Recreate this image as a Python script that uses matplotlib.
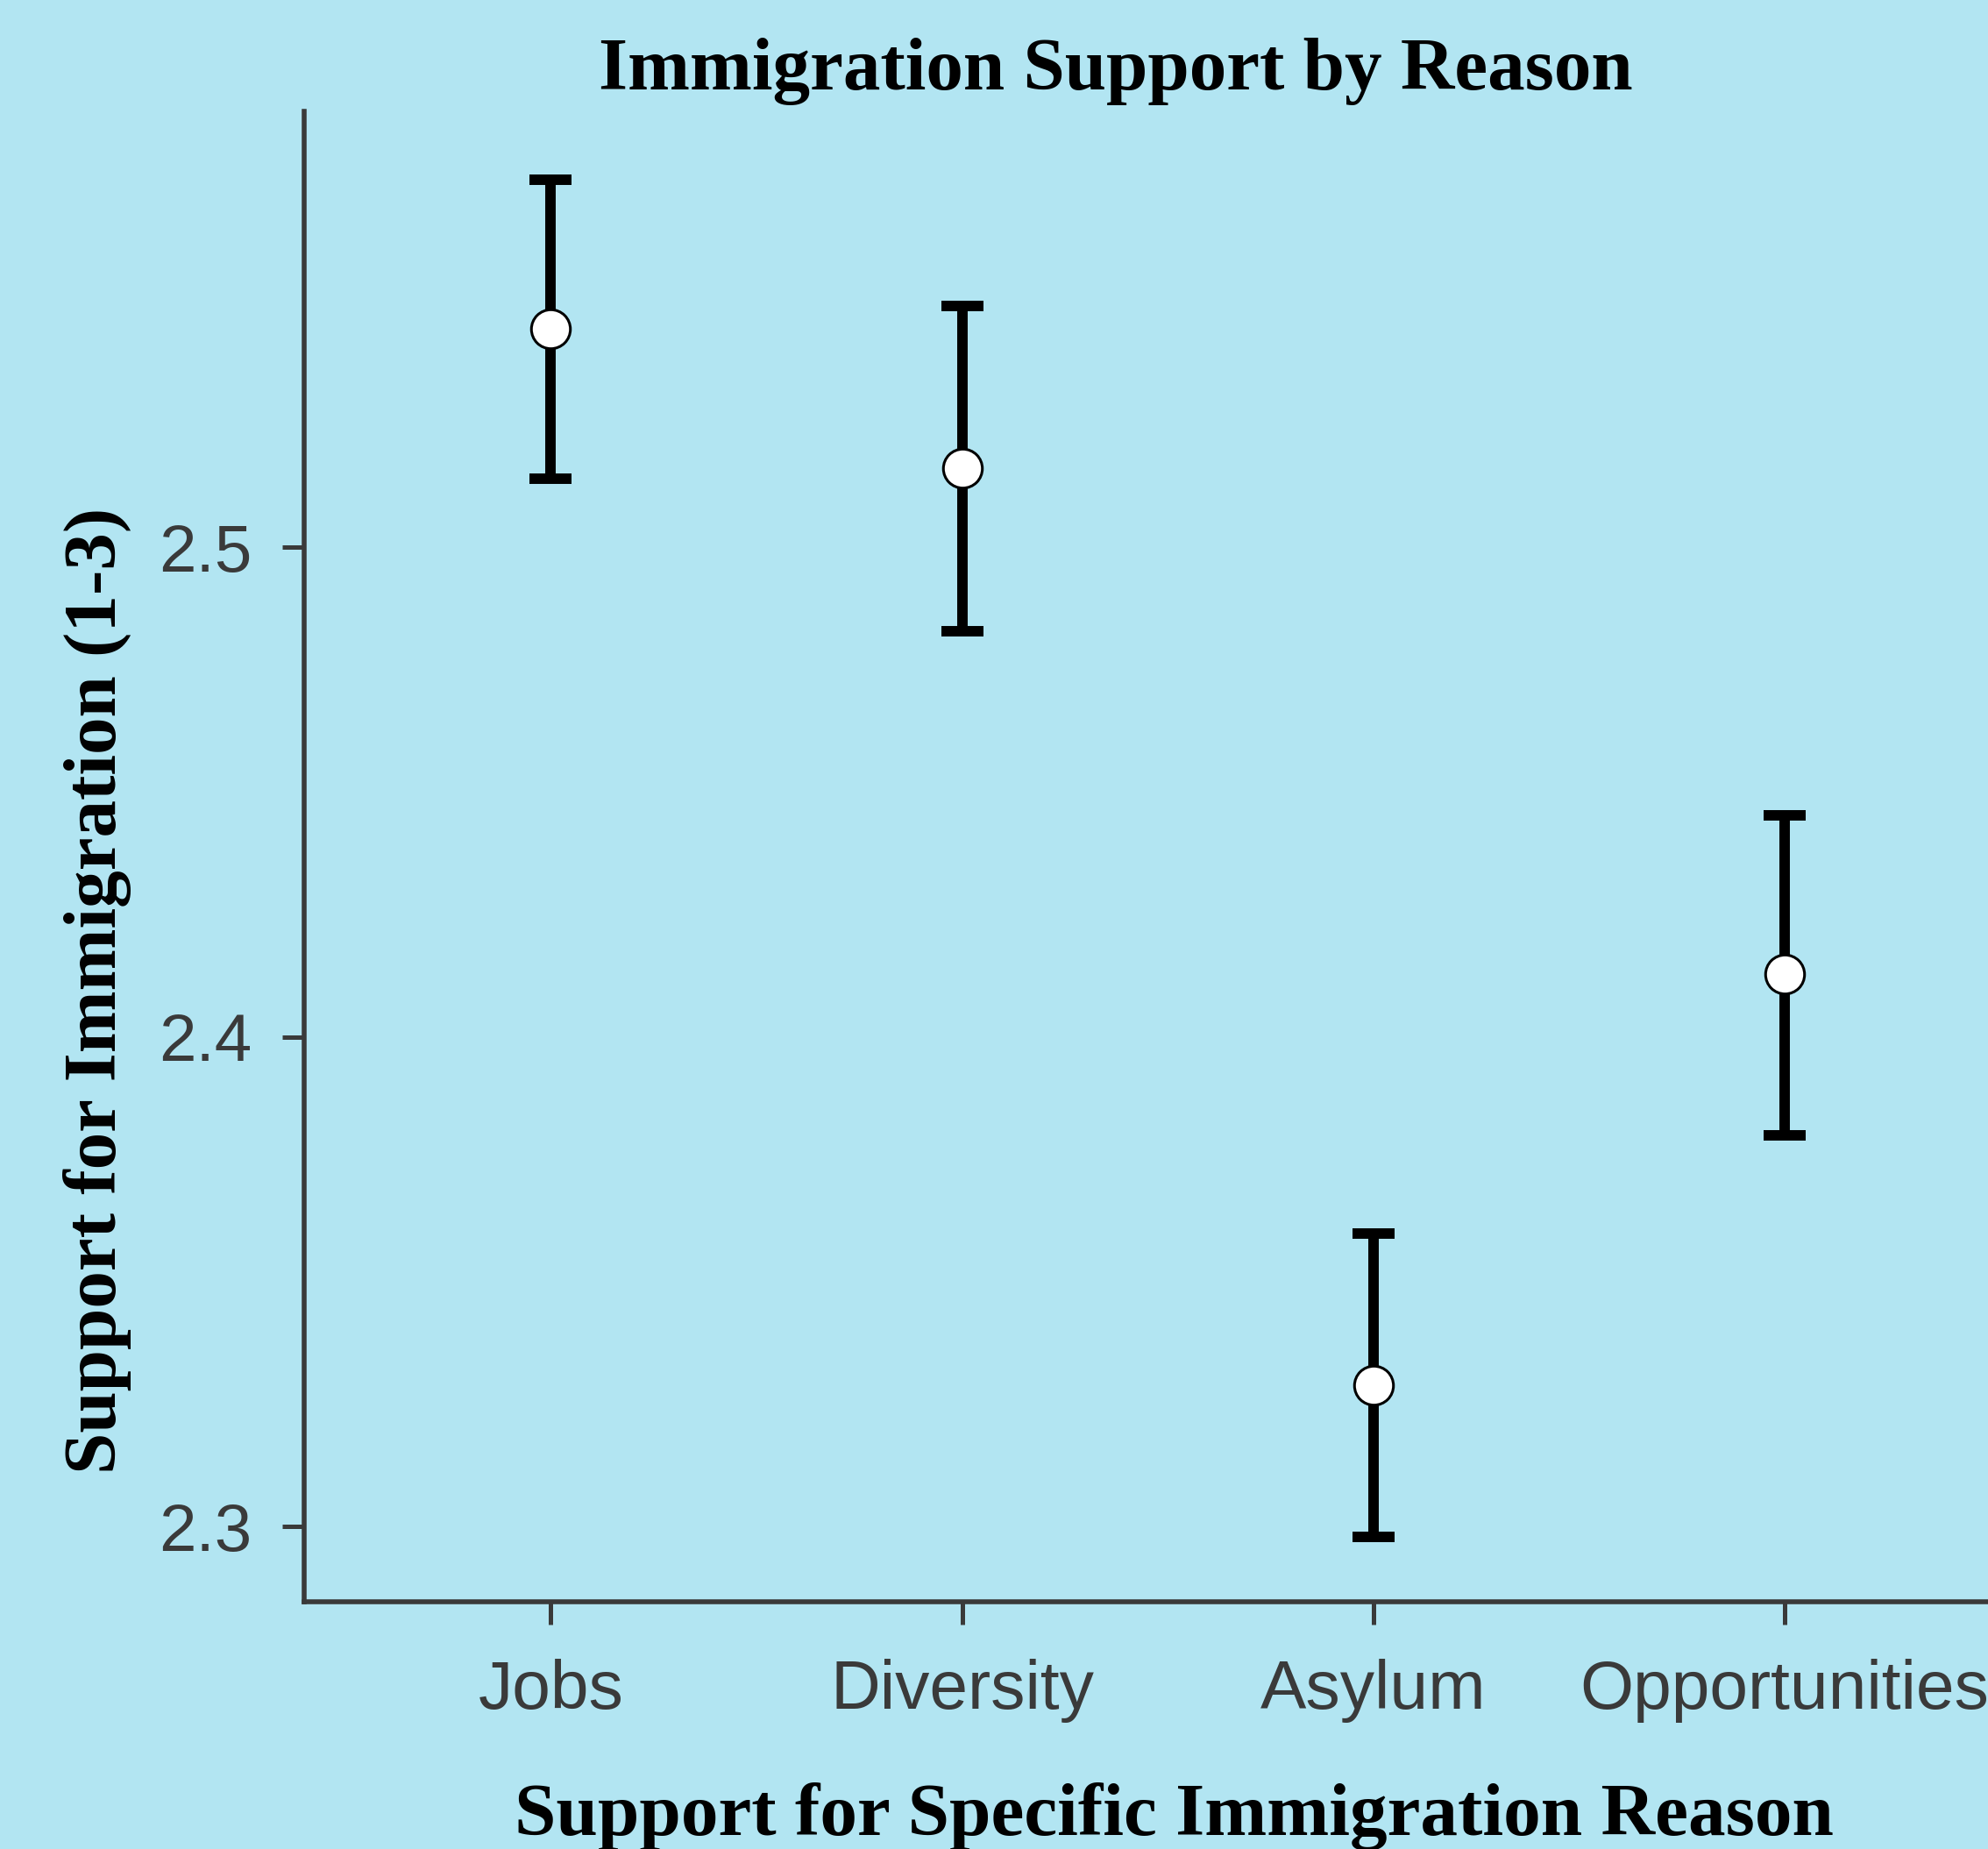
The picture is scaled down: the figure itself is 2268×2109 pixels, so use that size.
import matplotlib
matplotlib.use("Agg")
import matplotlib.pyplot as plt
import numpy as np

categories = ["Jobs", "Diversity", "Asylum", "Opportunities"]
means = [2.5447, 2.5161, 2.3289, 2.4128]
lower = [2.5140, 2.4828, 2.2979, 2.3798]
upper = [2.5751, 2.5493, 2.3598, 2.4452]
yticks = [2.3, 2.4, 2.5]
ytick_labels = ["2.3", "2.4", "2.5"]

title = "Immigration Support by Reason"
xlabel = "Support for Specific Immigration Reason"
ylabel = "Support for Immigration (1-3)"

W, H = 2268, 2109
bg = "#b2e5f2"
axis_col = "#3a3a3a"

fig = plt.figure(figsize=(W / 100, H / 100), dpi=100, facecolor=bg)
ax = fig.add_axes([346.8 / W, 1 - 1827 / H, 1970.6 / W, (1827 - 126.7) / H])
ax.set_facecolor(bg)

x = np.arange(len(categories))
m = np.array(means)
yerr = np.vstack([m - np.array(lower), np.array(upper) - m])
ax.errorbar(x, m, yerr=yerr, fmt="none", ecolor="black",
            elinewidth=8.6, capsize=17.4, capthick=8.6, zorder=2)
ax.plot(x, m, linestyle="none", marker="o", markersize=32,
        markerfacecolor="white", markeredgecolor="black",
        markeredgewidth=2.2, zorder=3)

ax.set_xlim(-0.6, 3.6)
ax.set_ylim(2.2846, 2.5891)
ax.set_xticks(x)
ax.set_xticklabels(categories, fontfamily="Liberation Sans", fontsize=56.5, color=axis_col)
ax.set_yticks(yticks)
ax.set_yticklabels(ytick_labels, fontfamily="Liberation Sans", fontsize=55, color=axis_col)
ax.tick_params(axis="x", length=19, width=3.6, color=axis_col, pad=28)
ax.tick_params(axis="y", length=18, width=3.6, color=axis_col, pad=24.5)

for s in ["top", "right"]:
    ax.spines[s].set_visible(False)
for s in ["left", "bottom"]:
    ax.spines[s].set_color(axis_col)
    ax.spines[s].set_linewidth(4)

fig.text(1273 / W, 1 - 102 / H, title, fontfamily="Liberation Serif",
         fontweight="bold", fontsize=61.3, ha="center", va="baseline", color="black")
fig.text(1339 / W, 1 - 2093 / H, xlabel, fontfamily="Liberation Serif",
         fontweight="bold", fontsize=61.4, ha="center", va="baseline", color="black")
fig.text(150 / W, 1 - 1130 / H, ylabel, fontfamily="Liberation Serif",
         fontweight="bold", fontsize=61.3, ha="right", va="center", rotation=90,
         color="black")

fig.savefig("out.png", dpi=100, facecolor=bg)
